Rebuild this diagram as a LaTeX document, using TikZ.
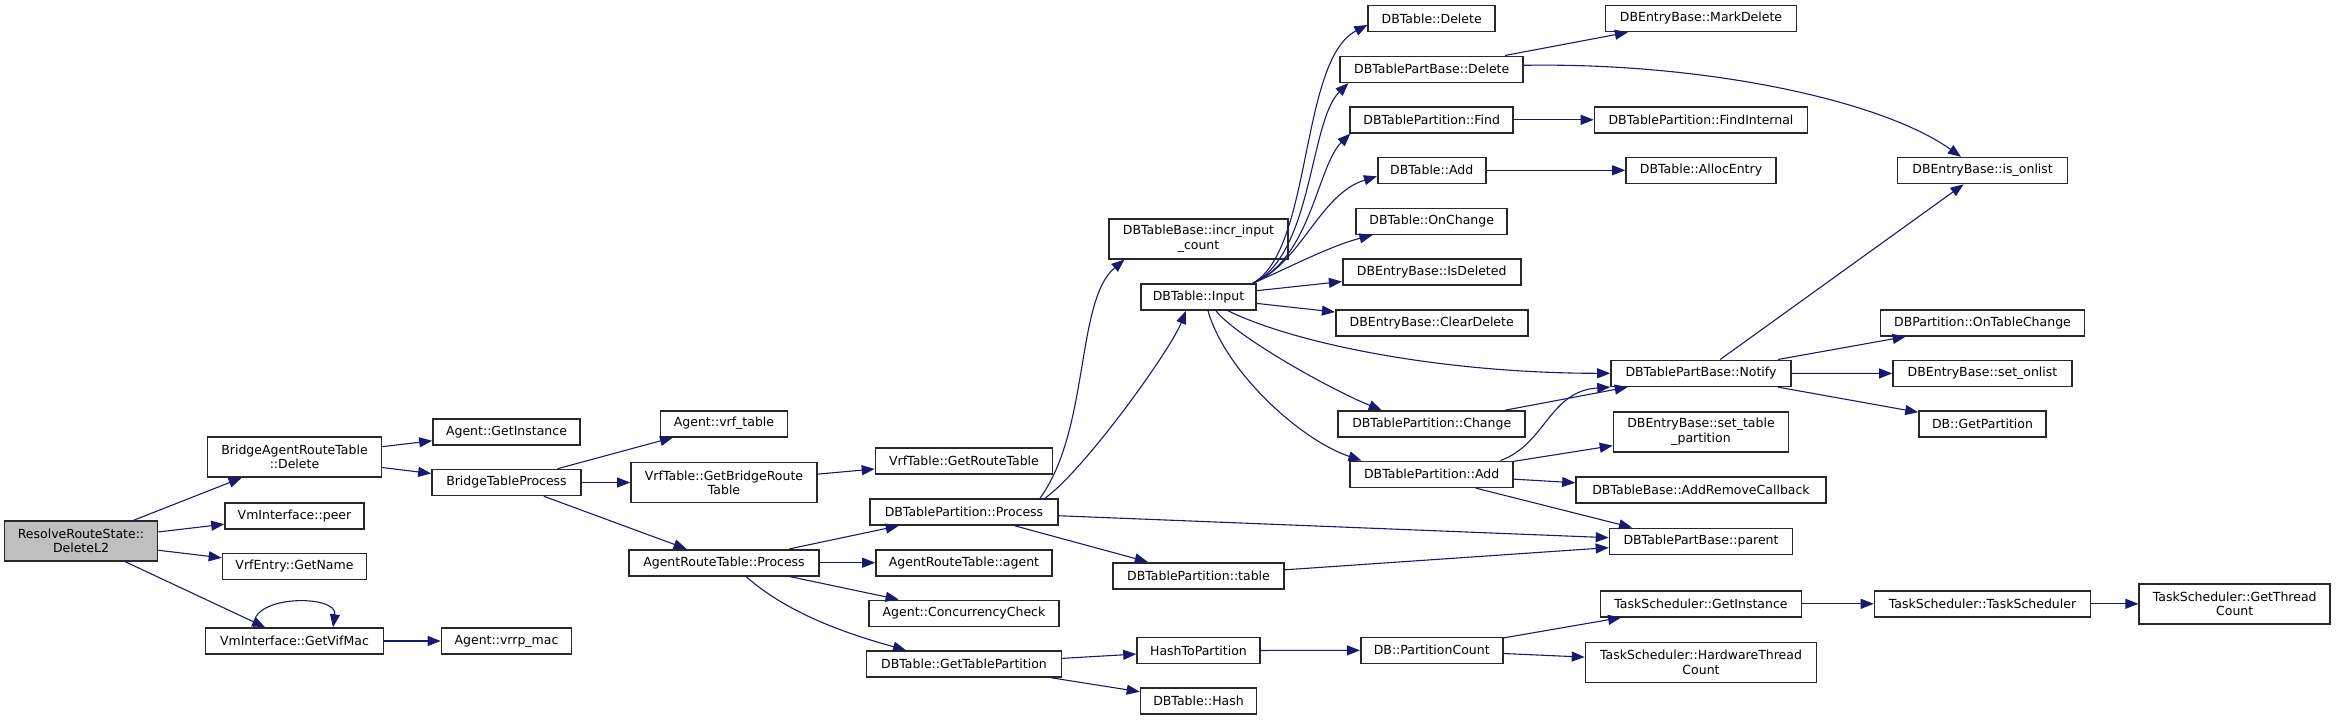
\documentclass[tikz,border=0pt]{standalone}
\usepackage{fontspec}
\setmainfont{DejaVu Sans}
\usetikzlibrary{arrows.meta,positioning,calc}
\definecolor{edgeblue}{RGB}{25,25,112}
\definecolor{rootgray}{RGB}{191,191,191}
\definecolor{boxline}{RGB}{40,40,40}
\tikzset{
  func/.style={
    rectangle, draw=boxline, line width=1.6pt, fill=white, align=center,
    font=\fontsize{12.5}{14.3}\selectfont, inner sep=2pt,
    minimum height=26pt},
  functwo/.style={func, minimum height=40pt},
  rootfunc/.style={functwo, fill=rootgray},
  call/.style={-{Triangle[length=13pt,width=10pt]}, draw=edgeblue,
    line width=1.1pt}
}

\begin{document}
\begin{tikzpicture}[x=1pt,y=-1pt]
\useasboundingbox (0,0) rectangle (2336,720);

% column 0 and 1
\node[rootfunc, minimum width=153pt] (rrs) at (81,541) {ResolveRouteState::\\DeleteL2};
\node[functwo, minimum width=174pt] (bart) at (294.5,457) {BridgeAgentRouteTable\\::Delete};
\node[func, minimum width=139pt] (peer) at (294.5,516) {VmInterface::peer};
\node[func, minimum width=144pt] (getname) at (294.5,566.5) {VrfEntry::GetName};
\node[func, minimum width=178pt] (vifmac) at (294.5,641) {VmInterface::GetVifMac};

% column 2
\node[func, minimum width=147pt] (getinst) at (506.5,432) {Agent::GetInstance};
\node[func, minimum width=149pt] (btp) at (506.5,482.5) {BridgeTableProcess};
\node[func, minimum width=130pt] (vrrpmac) at (506.5,641) {Agent::vrrp\_mac};

% column 3
\node[func, minimum width=127pt] (vrftable) at (724,423.7) {Agent::vrf\_table};
\node[functwo, minimum width=186pt] (bgrt) at (724,482.5) {VrfTable::GetBridgeRoute\\Table};
\node[func, minimum width=190pt] (artp) at (724,562.7) {AgentRouteTable::Process};

% column 4
\node[func, minimum width=177pt] (grt) at (964,461) {VrfTable::GetRouteTable};
\node[func, minimum width=188pt] (dtpp) at (964,512) {DBTablePartition::Process};
\node[func, minimum width=176pt] (arta) at (964,562.7) {AgentRouteTable::agent};
\node[func, minimum width=190pt] (conc) at (964,613.3) {Agent::ConcurrencyCheck};
\node[func, minimum width=195pt] (gtp) at (964,664) {DBTable::GetTablePartition};

% column 5
\node[functwo, minimum width=179pt] (incr) at (1198.5,238.7) {DBTableBase::incr\_input\\\_count};
\node[func, minimum width=115pt] (input) at (1198.5,297) {DBTable::Input};
\node[func, minimum width=171pt] (dtpt) at (1198.5,575.7) {DBTablePartition::table};
\node[func, minimum width=123pt] (h2p) at (1198.5,650.5) {HashToPartition};
\node[func, minimum width=116pt] (hash) at (1198.5,701) {DBTable::Hash};

% column 6
\node[func, minimum width=127pt] (tdel) at (1431.7,18.5) {DBTable::Delete};
\node[func, minimum width=183pt] (tpbdel) at (1431.7,69.3) {DBTablePartBase::Delete};
\node[func, minimum width=163pt] (find) at (1431.7,119.8) {DBTablePartition::Find};
\node[func, minimum width=108pt] (tadd) at (1431.7,170.3) {DBTable::Add};
\node[func, minimum width=151pt] (onch) at (1431.7,221.3) {DBTable::OnChange};
\node[func, minimum width=178pt] (isdel) at (1431.7,271.8) {DBEntryBase::IsDeleted};
\node[func, minimum width=192pt] (clrdel) at (1431.7,322.7) {DBEntryBase::ClearDelete};
\node[func, minimum width=187pt] (chg) at (1431.7,424) {DBTablePartition::Change};
\node[func, minimum width=163pt] (padd) at (1431.7,474.3) {DBTablePartition::Add};
\node[func, minimum width=142pt] (pcount) at (1431.7,650.3) {DB::PartitionCount};

% column 7
\node[func, minimum width=191pt] (markdel) at (1701,18.5) {DBEntryBase::MarkDelete};
\node[func, minimum width=213pt] (findint) at (1701,119.8) {DBTablePartition::FindInternal};
\node[func, minimum width=150pt] (alloc) at (1701,170.3) {DBTable::AllocEntry};
\node[func, minimum width=180pt] (notify) at (1701,373.3) {DBTablePartBase::Notify};
\node[functwo, minimum width=175pt] (setpart) at (1701,431.7) {DBEntryBase::set\_table\\\_partition};
\node[func, minimum width=250pt] (addrm) at (1701,490.2) {DBTableBase::AddRemoveCallback};
\node[func, minimum width=183pt] (parent) at (1701,541.3) {DBTablePartBase::parent};
\node[func, minimum width=201pt] (tsgi) at (1701,603.8) {TaskScheduler::GetInstance};
\node[functwo, minimum width=231pt] (hwtc) at (1701,662.3) {TaskScheduler::HardwareThread\\Count};

% column 8 and 9
\node[func, minimum width=170pt] (isonlist) at (1982.6,170.6) {DBEntryBase::is\_onlist};
\node[func, minimum width=204pt] (otc) at (1982.5,322.8) {DBPartition::OnTableChange};
\node[func, minimum width=179pt] (setonlist) at (1982.5,373.5) {DBEntryBase::set\_onlist};
\node[func, minimum width=127pt] (getpart) at (1982.5,423.8) {DB::GetPartition};
\node[func, minimum width=216pt] (tsts) at (1982.5,603.8) {TaskScheduler::TaskScheduler};
\node[functwo, minimum width=191pt] (gtc) at (2234.7,603.8) {TaskScheduler::GetThread\\Count};

% ResolveRouteState::DeleteL2
\draw[call] (rrs) -- (bart);
\draw[call] (rrs) -- (peer);
\draw[call] (rrs) -- (getname);
\draw[call] (rrs) -- (vifmac);

% BridgeAgentRouteTable::Delete
\draw[call] (bart) -- (getinst);
\draw[call] (bart) -- (btp);

% VmInterface::GetVifMac (calls itself)
\draw[call] ([xshift=-40.5pt]vifmac.north) .. controls +(-5,-33) and +(5,-33) .. ([xshift=38.5pt]vifmac.north);
\draw[call] (vifmac) -- (vrrpmac);

% BridgeTableProcess
\draw[call] (btp) -- (vrftable);
\draw[call] (btp) -- (bgrt);
\draw[call] (btp) -- (artp);
\draw[call] (bgrt) -- (grt);

% AgentRouteTable::Process
\draw[call] (artp) -- (dtpp);
\draw[call] (artp) -- (arta);
\draw[call] (artp) -- (conc);
\draw[call] ([xshift=22pt]artp.south) .. controls +(45,40) and +(-50,-14) .. ([xshift=-58pt]gtp.north);

% DBTablePartition::Process
\draw[call] ([xshift=76pt]dtpp.north) .. controls +(50,-69) and +(-49,41) .. ([xshift=-74pt]incr.south);
\draw[call] ([xshift=81pt]dtpp.north) .. controls +(40,-29) and +(-16,40) .. ([xshift=-12.5pt]input.south);
\draw[call] (dtpp) -- (parent);
\draw[call] (dtpp) -- (dtpt);
\draw[call] (dtpt) -- (parent);

% DBTable::GetTablePartition
\draw[call] (gtp) -- (h2p);
\draw[call] (gtp) -- (hash);
\draw[call] (h2p) -- (pcount);
\draw[call] (pcount) -- (tsgi);
\draw[call] (pcount) -- (hwtc);
\draw[call] (tsgi) -- (tsts);
\draw[call] (tsts) -- (gtc);

% DBTable::Input
\draw[call] ([xshift=-4pt]input.north east) .. controls +(60,-34) and +(-68,35) .. ([yshift=-6.5pt]tdel.west);
\draw[call] ([xshift=-4pt]input.north east) .. controls +(60,-29) and +(-39,38) .. ([xshift=9pt]tpbdel.south west);
\draw[call] ([xshift=-4pt]input.north east) .. controls +(58,-24) and +(-33,32) .. ([xshift=1pt]find.south west);
\draw[call] ([xshift=-4pt]input.north east) .. controls +(48,-19) and +(-58,18) .. ([yshift=-6pt]tadd.west);
\draw[call] ([xshift=-4pt]input.north east) .. controls +(33,-14) and +(-43,11) .. ([xshift=17pt]onch.south west);
\draw[call] (input) -- (isdel);
\draw[call] (input) -- (clrdel);
\draw[call] ([xshift=29.5pt]input.south) .. controls +(72,35) and +(-161,0) .. (notify.west);
\draw[call] ([xshift=17.5pt]input.south) .. controls +(19,25) and +(-52,-21) .. ([xshift=-50pt]chg.north);
\draw[call] ([xshift=9.5pt]input.south) .. controls +(17,60) and +(-62,-21) .. ([xshift=12pt]padd.north west);

% DBTablePartBase::Delete, Find, Add
\draw[call] (tpbdel) -- (markdel);
\draw[call] ([yshift=4pt]tpbdel.east) .. controls +(177,-3) and +(-81,-57.6) .. ([xshift=-21.6pt]isonlist.north);
\draw[call] (find) -- (findint);
\draw[call] (tadd) -- (alloc);

% DBTablePartition::Change and ::Add
\draw[call] (chg) -- (notify);
\draw[call] ([xshift=68.7pt]padd.north) .. controls +(45,-16) and +(-61,4) .. (notify.south west);
\draw[call] (padd) -- (setpart);
\draw[call] (padd) -- (addrm);
\draw[call] ([xshift=44pt]padd.south) -- ([xshift=-69pt]parent.north);

% DBTablePartBase::Notify
\draw[call] (notify) -- (isonlist);
\draw[call] (notify) -- (otc);
\draw[call] (notify) -- (setonlist);
\draw[call] (notify) -- (getpart);

\end{tikzpicture}
\end{document}
